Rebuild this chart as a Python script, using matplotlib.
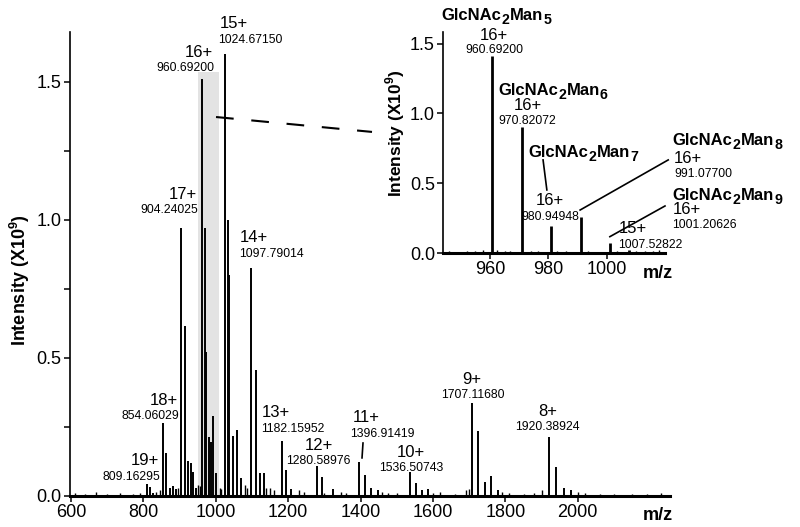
import matplotlib
matplotlib.use("Agg")
import matplotlib.pyplot as plt

plt.rcParams['font.family'] = ['Liberation Sans', 'DejaVu Sans']
plt.rcParams['mathtext.fontset'] = 'custom'
plt.rcParams['mathtext.rm'] = 'Liberation Sans'
plt.rcParams['mathtext.bf'] = 'Liberation Sans:bold'

# ---------------- data: main spectrum ----------------
main_mz = [809.16, 817.7, 826.2, 854.06, 863.06, 872.1, 881.1, 890.0,
           904.24, 913.77, 923.3, 932.0, 937.5, 945.0,
           960.69, 970.82, 973.5, 980.95, 985.5, 991.08, 1001.2,
           1024.67, 1032.9, 1036.5, 1046.7, 1058.6, 1068.8,
           1097.79, 1110.0, 1122.0, 1133.0,
           1182.16, 1194.6, 1207.0,
           1280.59, 1294.1, 1325.0,
           1396.91, 1411.6, 1430.0, 1447.0,
           1536.51, 1552.7, 1570.0, 1585.0,
           1707.12, 1725.1, 1743.1, 1761.1, 1780.0,
           1920.39, 1940.6, 1961.0, 1981.0]
main_int = [0.043, 0.034, 0.012, 0.266, 0.155, 0.030, 0.035, 0.025,
            0.97, 0.617, 0.128, 0.12, 0.088, 0.03,
            1.51, 0.97, 0.52, 0.215, 0.197, 0.29, 0.083,
            1.60, 1.00, 0.80, 0.217, 0.24, 0.065,
            0.826, 0.457, 0.083, 0.083,
            0.20, 0.094, 0.025,
            0.109, 0.069, 0.025,
            0.124, 0.076, 0.03, 0.02,
            0.088, 0.048, 0.02, 0.025,
            0.336, 0.237, 0.052, 0.072, 0.02,
            0.215, 0.106, 0.03, 0.02]

main_noise_mz = [612, 640, 668, 700, 735, 770, 790, 835, 845, 895, 950, 955,
                 1012, 1015, 1080, 1085, 1140, 1150, 1160, 1230, 1245, 1300,
                 1345, 1360, 1460, 1475, 1500, 1600, 1620, 1660, 1690, 1700,
                 1790, 1810, 1850, 1880, 1900, 2000, 2020, 2060, 2100, 2150,
                 2190, 2230]
main_noise_int = [0.012, 0.008, 0.015, 0.006, 0.010, 0.008, 0.012, 0.015, 0.02, 0.03, 0.04, 0.035,
                  0.03, 0.025, 0.04, 0.03, 0.03, 0.03, 0.02, 0.02, 0.015, 0.012,
                  0.015, 0.012, 0.015, 0.012, 0.01, 0.012, 0.015, 0.008, 0.02, 0.025,
                  0.015, 0.01, 0.008, 0.012, 0.02, 0.015, 0.01, 0.008, 0.006, 0.008,
                  0.006, 0.012]

# labels on main plot: charge, m/z text, label anchor x, charge-label y, number-label y
main_charge = ['15+', '16+', '17+', '14+', '13+', '12+', '11+', '18+', '19+', '10+', '9+', '8+']
main_value = ['1024.67150', '960.69200', '904.24025', '1097.79014', '1182.15952', '1280.58976',
              '1396.91419', '854.06029', '809.16295', '1536.50743', '1707.11680', '1920.38924']
main_charge_x = [1049.7, 953.0, 908.0, 1105.5, 1165.7, 1284.5, 1414.4, 856.4, 803.0, 1540.0, 1708.3, 1916.9]
main_charge_y = [1.695, 1.592, 1.076, 0.921, 0.285, 0.167, 0.267, 0.330, 0.112, 0.142, 0.406, 0.290]
main_value_x = [1095.9, 915.7, 872.1, 1152.5, 1211.9, 1284.5, 1461.3, 820.2, 765.7, 1540.0, 1709.1, 1917.2]
main_value_y = [1.642, 1.541, 1.024, 0.867, 0.233, 0.116, 0.215, 0.279, 0.058, 0.092, 0.354, 0.239]

zoom_range = [952.0, 1008.0]
zoom_top = 1.536

# ---------------- data: inset ----------------
inset_mz = [960.69, 970.82, 980.95, 991.08, 1001.21, 1007.53]
inset_int = [1.41, 0.905, 0.19, 0.26, 0.074, 0.025]
inset_noise_mz = [946, 949, 952, 955, 957.5, 962.5, 965, 967, 974, 976.5, 983, 986, 993.5,
                  996, 1003.5, 1010, 1013, 1016, 1018]
inset_noise_int = [0.015, 0.01, 0.012, 0.015, 0.02, 0.02, 0.012, 0.015, 0.015, 0.012, 0.015, 0.012,
                   0.012, 0.01, 0.015, 0.012, 0.015, 0.012, 0.02]

glyco_n = [5, 6, 7, 8, 9]
glyco_x = [943.4, 962.8, 973.1, 1022.6, 1022.6]
glyco_y = [1.670, 1.133, 0.690, 0.774, 0.380]
inset_charge = ['16+', '16+', '16+', '16+', '16+', '15+']
inset_value = ['960.69200', '970.82072', '980.94948', '991.07700', '1001.20626', '1007.52822']
inset_charge_x = [961.4, 973.0, 980.7, 1023.1, 1022.6, 1009.1]
inset_charge_y = [1.527, 1.025, 0.344, 0.643, 0.280, 0.141]
inset_value_x = [961.4, 972.8, 980.8, 1023.1, 1022.6, 1014.9]
inset_value_y = [1.432, 0.925, 0.237, 0.547, 0.177, 0.034]
inset_ha = ['center', 'center', 'center', 'left', 'left', 'center']
leader_x = [[978.2, 979.5], [990.9, 1021.1], [1001.1, 1020.0]]
leader_y = [[0.667, 0.452], [0.308, 0.667], [0.117, 0.337]]

W, H = 800, 527
fig = plt.figure(figsize=(W / 100, H / 100), dpi=100)

def style_axes(a, fs):
    for s in ['top', 'right']:
        a.spines[s].set_visible(False)
    for s in ['left', 'bottom']:
        a.spines[s].set_linewidth(1.2)
    a.tick_params(direction='out', length=4, width=1.1, labelsize=fs, pad=2)

# ---------------- main axes ----------------
ax = fig.add_axes([70 / W, 1 - 496 / H, 600 / W, (496 - 32) / H])
ax.set_xlim(597.2, 2254.7)
ax.set_ylim(0, 1.681)
style_axes(ax, 13)
ax.set_xticks([600, 800, 1000, 1200, 1400, 1600, 1800, 2000])
ax.set_yticks([0, 0.5, 1.0, 1.5])
ax.set_yticklabels(['0.0', '0.5', '1.0', '1.5'])
ax.set_yticks([0.25, 0.75, 1.25], minor=True)
ax.tick_params(axis='y', which='minor', direction='out', length=4, width=1.1)

ax.axvspan(zoom_range[0], zoom_range[1], ymin=0, ymax=zoom_top / 1.681, color='#e3e3e3', lw=0, zorder=0)
ax.vlines(main_mz, 0, main_int, color='black', lw=1.4, zorder=2)
ax.vlines(main_noise_mz, 0, main_noise_int, color='black', lw=1.0, zorder=2)
ax.plot([597.2, 2254.7], [0, 0], color='black', lw=2.2, zorder=3, clip_on=False)

for c, v, cx, cy, vx, vy in zip(main_charge, main_value, main_charge_x, main_charge_y,
                                main_value_x, main_value_y):
    ax.text(cx, cy, c, fontsize=12, ha='center', va='baseline', clip_on=False)
    ax.text(vx, vy, v, fontsize=8.8, ha='center', va='baseline', clip_on=False)
ax.plot([1406.6, 1403.9], [0.192, 0.138], color='black', lw=1.2)

ax.plot([1000.6, 1431.5], [1.373, 1.319], color='black', lw=1.5,
        ls=(0, (8.5, 8.5)), clip_on=False, zorder=4)

fig.text(20 / W, 1 - 280 / H, r'Intensity (X10$^{\mathbf{9}}$)', rotation=90,
         fontsize=13, fontweight='bold', ha='center', va='center')
fig.text(658 / W, 1 - 520 / H, 'm/z', fontsize=13, fontweight='bold', ha='center', va='baseline')

# ---------------- inset ----------------
ai = fig.add_axes([443.3 / W, 1 - 253 / H, (665 - 443.3) / W, (253 - 31.7) / H])
ai.set_xlim(944.0, 1020.0)
ai.set_ylim(0, 1.586)
ai.patch.set_alpha(0)
style_axes(ai, 13)
ai.set_xticks([960, 980, 1000])
ai.set_yticks([0, 0.5, 1.0, 1.5])
ai.set_yticklabels(['0.0', '0.5', '1.0', '1.5'])
ai.vlines(inset_mz, 0, inset_int, color='black', lw=2.0, zorder=2)
ai.vlines(inset_noise_mz, 0, inset_noise_int, color='black', lw=1.0, zorder=2)
ai.plot([944.0, 1020.0], [0, 0], color='black', lw=2.2, zorder=3, clip_on=False)

def glyco_label(a, x, y, n, fs=12):
    t1 = a.text(x, y, 'GlcNAc', fontsize=fs, fontweight='bold', ha='left', va='baseline', clip_on=False)
    t2 = a.annotate('2', xy=(1, y), xycoords=(t1, 'data'), xytext=(0.2, -3.0), textcoords='offset points',
                    fontsize=fs * 0.85, fontweight='bold', ha='left', va='baseline', annotation_clip=False)
    t3 = a.annotate('Man', xy=(1, y), xycoords=(t2, 'data'), xytext=(0.2, 0), textcoords='offset points',
                    fontsize=fs, fontweight='bold', ha='left', va='baseline', annotation_clip=False)
    a.annotate(str(n), xy=(1, y), xycoords=(t3, 'data'), xytext=(0.2, -3.0), textcoords='offset points',
               fontsize=fs * 0.85, fontweight='bold', ha='left', va='baseline', annotation_clip=False)

for n, gx, gy in zip(glyco_n, glyco_x, glyco_y):
    glyco_label(ai, gx, gy, n)

for c, v, cx, cy, vx, vy, ha in zip(inset_charge, inset_value, inset_charge_x, inset_charge_y,
                                    inset_value_x, inset_value_y, inset_ha):
    ai.text(cx, cy, c, fontsize=12, ha=ha, va='baseline', clip_on=False)
    ai.text(vx, vy, v, fontsize=8.8, ha=ha, va='baseline', clip_on=False)

for lx, ly in zip(leader_x, leader_y):
    ai.plot(lx, ly, color='black', lw=1.2, clip_on=False)

fig.text(395 / W, 1 - 133 / H, r'Intensity (X10$^{\mathbf{9}}$)', rotation=90,
         fontsize=12.5, fontweight='bold', ha='center', va='center')
fig.text(658 / W, 1 - 278 / H, 'm/z', fontsize=13, fontweight='bold', ha='center', va='baseline')

fig.savefig('out.png', dpi=100)
